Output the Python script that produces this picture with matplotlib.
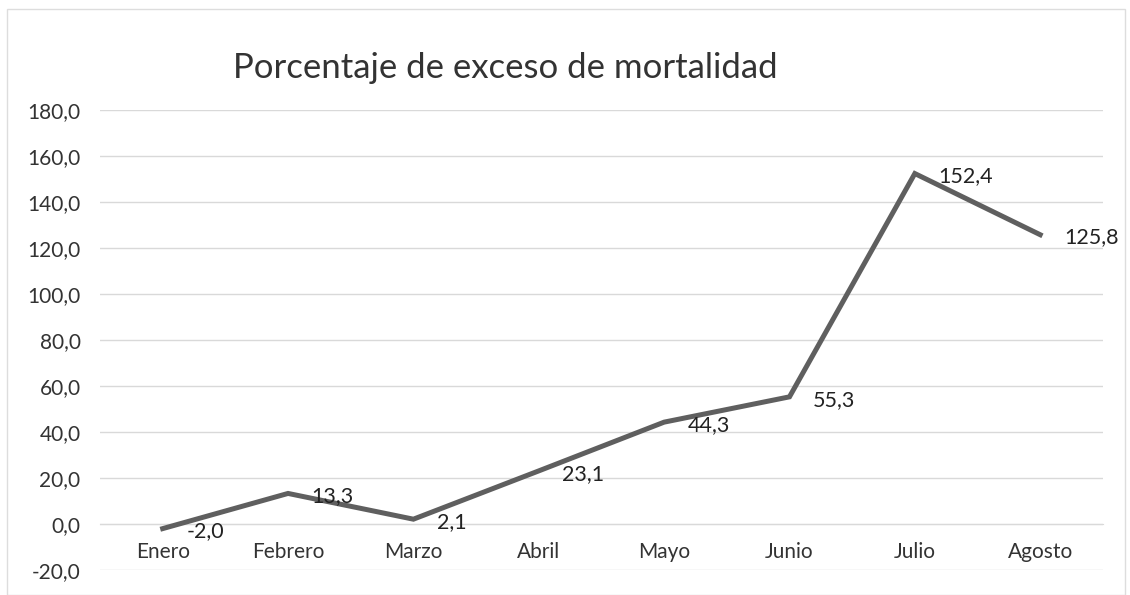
import matplotlib.pyplot as plt
from matplotlib.patches import Rectangle

months = ["Enero", "Febrero", "Marzo", "Abril", "Mayo", "Junio", "Julio", "Agosto"]
excess = [-2.0, 13.3, 2.1, 23.1, 44.3, 55.3, 152.4, 125.8]
y_ticks = [-20, 0, 20, 40, 60, 80, 100, 120, 140, 160, 180]

plt.rcParams["font.family"] = ["Lato", "DejaVu Sans"]

fig = plt.figure(figsize=(11.3, 5.95), dpi=100)
ax = fig.add_axes([0.0885, 0.042, 0.8875, 0.773])

x = list(range(len(months)))
ax.plot(x, excess, color="#5f5f5f", linewidth=3.6, solid_joinstyle="miter", zorder=3)

# data labels, to the right of each point
for xi, v in zip(x, excess):
    ax.annotate(f"{v:.1f}".replace(".", ","), (xi, v), xytext=(17, -2),
                textcoords="offset points", va="center", ha="left",
                fontsize=15.5, color="#222222", zorder=4)

ax.set_xlim(-0.5, len(months) - 0.5)
ax.set_ylim(-20, 180)
ax.set_yticks(y_ticks)
ax.set_yticklabels([f"{t:.1f}".replace(".", ",") for t in y_ticks])
ax.set_xticks(x)
ax.set_xticklabels(months)

ax.grid(axis="y", color="#d9d9d9", linewidth=1)
ax.set_axisbelow(True)
for s in ["top", "right", "left"]:
    ax.spines[s].set_visible(False)
ax.spines["bottom"].set_position(("data", 0))
ax.spines["bottom"].set_color("#d9d9d9")
ax.tick_params(axis="both", length=0, labelsize=15, colors="#333333")
ax.tick_params(axis="y", pad=14)
ax.tick_params(axis="x", pad=13)

fig.text(0.447, 0.886, "Porcentaje de exceso de mortalidad", ha="center", va="center",
         fontsize=25, color="#333333")

fig.patches.append(Rectangle((0.006, 0.0), 0.99, 0.985, transform=fig.transFigure,
                             fill=False, edgecolor="#dddddd", linewidth=1))

fig.savefig("out.png", dpi=100)
